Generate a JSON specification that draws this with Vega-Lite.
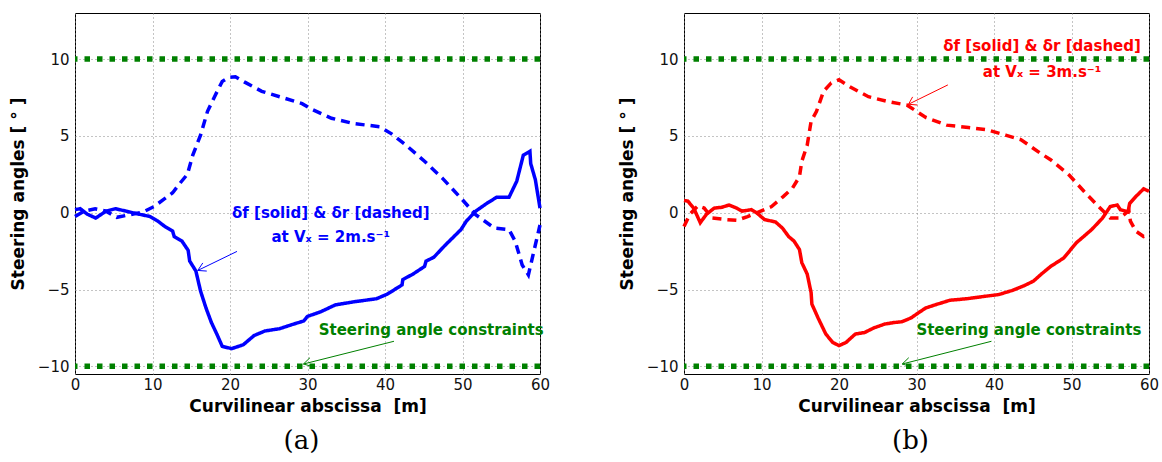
{
  "$schema": "https://vega.github.io/schema/vega-lite/v6.json",
  "padding": {"left": 8, "top": 12, "right": 5, "bottom": 5},
  "background": "white",
  "spacing": 144,
  "bounds": "flush",
  "datasets": {
    "curves": [
      {"p":"a","s":"solid","x":0,"y":0.2},{"p":"a","s":"solid","x":0.67,"y":0.26},{"p":"a","s":"solid","x":1.6,"y":-0.1},{"p":"a","s":"solid","x":2.67,"y":-0.35},{"p":"a","s":"solid","x":4,"y":0.1},{"p":"a","s":"solid","x":5.2,"y":0.26},{"p":"a","s":"solid","x":6.6,"y":0.1},{"p":"a","s":"solid","x":8.3,"y":-0.1},{"p":"a","s":"solid","x":9.7,"y":-0.25},{"p":"a","s":"solid","x":10.7,"y":-0.55},{"p":"a","s":"solid","x":11.6,"y":-0.9},{"p":"a","s":"solid","x":12.6,"y":-1.2},{"p":"a","s":"solid","x":12.8,"y":-1.55},{"p":"a","s":"solid","x":13.8,"y":-1.85},{"p":"a","s":"solid","x":14.6,"y":-2.45},{"p":"a","s":"solid","x":14.8,"y":-3.15},{"p":"a","s":"solid","x":15.6,"y":-3.8},{"p":"a","s":"solid","x":16.2,"y":-5.1},{"p":"a","s":"solid","x":16.9,"y":-6.2},{"p":"a","s":"solid","x":17.6,"y":-7.15},{"p":"a","s":"solid","x":18.3,"y":-7.9},{"p":"a","s":"solid","x":19.0,"y":-8.7},{"p":"a","s":"solid","x":20.2,"y":-8.85},{"p":"a","s":"solid","x":21.7,"y":-8.6},{"p":"a","s":"solid","x":23.1,"y":-8.0},{"p":"a","s":"solid","x":24.5,"y":-7.7},{"p":"a","s":"solid","x":26.4,"y":-7.55},{"p":"a","s":"solid","x":27.9,"y":-7.3},{"p":"a","s":"solid","x":29.5,"y":-7.05},{"p":"a","s":"solid","x":30.0,"y":-6.75},{"p":"a","s":"solid","x":31.7,"y":-6.45},{"p":"a","s":"solid","x":33.6,"y":-6.0},{"p":"a","s":"solid","x":36.0,"y":-5.8},{"p":"a","s":"solid","x":38.9,"y":-5.6},{"p":"a","s":"solid","x":40.3,"y":-5.3},{"p":"a","s":"solid","x":42.2,"y":-4.7},{"p":"a","s":"solid","x":42.3,"y":-4.35},{"p":"a","s":"solid","x":43.6,"y":-4.0},{"p":"a","s":"solid","x":45.1,"y":-3.5},{"p":"a","s":"solid","x":45.3,"y":-3.15},{"p":"a","s":"solid","x":46.3,"y":-2.9},{"p":"a","s":"solid","x":47.7,"y":-2.15},{"p":"a","s":"solid","x":48.6,"y":-1.7},{"p":"a","s":"solid","x":49.8,"y":-1.1},{"p":"a","s":"solid","x":50.5,"y":-0.55},{"p":"a","s":"solid","x":51.7,"y":0.1},{"p":"a","s":"solid","x":53.2,"y":0.63},{"p":"a","s":"solid","x":54.4,"y":1.0},{"p":"a","s":"solid","x":56.0,"y":1.0},{"p":"a","s":"solid","x":57.0,"y":2.05},{"p":"a","s":"solid","x":57.85,"y":3.75},{"p":"a","s":"solid","x":58.7,"y":4.0},{"p":"a","s":"solid","x":58.8,"y":3.2},{"p":"a","s":"solid","x":59.4,"y":2.15},{"p":"a","s":"solid","x":60,"y":0.3},
      {"p":"a","s":"dashed","x":0,"y":-0.25},{"p":"a","s":"dashed","x":1.15,"y":0.1},{"p":"a","s":"dashed","x":2.6,"y":0.25},{"p":"a","s":"dashed","x":4.0,"y":0.1},{"p":"a","s":"dashed","x":5.4,"y":-0.3},{"p":"a","s":"dashed","x":6.9,"y":-0.15},{"p":"a","s":"dashed","x":8.8,"y":0.05},{"p":"a","s":"dashed","x":10.2,"y":0.4},{"p":"a","s":"dashed","x":11.4,"y":0.85},{"p":"a","s":"dashed","x":12.6,"y":1.3},{"p":"a","s":"dashed","x":13.6,"y":1.95},{"p":"a","s":"dashed","x":14.5,"y":2.5},{"p":"a","s":"dashed","x":15.2,"y":3.75},{"p":"a","s":"dashed","x":16.2,"y":5.05},{"p":"a","s":"dashed","x":17.1,"y":6.6},{"p":"a","s":"dashed","x":18.1,"y":7.65},{"p":"a","s":"dashed","x":19.0,"y":8.55},{"p":"a","s":"dashed","x":19.8,"y":8.8},{"p":"a","s":"dashed","x":20.7,"y":8.85},{"p":"a","s":"dashed","x":21.9,"y":8.5},{"p":"a","s":"dashed","x":24.1,"y":7.9},{"p":"a","s":"dashed","x":26.4,"y":7.55},{"p":"a","s":"dashed","x":29.3,"y":7.1},{"p":"a","s":"dashed","x":30.7,"y":6.7},{"p":"a","s":"dashed","x":33.1,"y":6.15},{"p":"a","s":"dashed","x":36.0,"y":5.8},{"p":"a","s":"dashed","x":39.3,"y":5.6},{"p":"a","s":"dashed","x":40.8,"y":5.15},{"p":"a","s":"dashed","x":42.7,"y":4.4},{"p":"a","s":"dashed","x":45.1,"y":3.35},{"p":"a","s":"dashed","x":47.4,"y":2.25},{"p":"a","s":"dashed","x":49.8,"y":0.95},{"p":"a","s":"dashed","x":51.7,"y":-0.13},{"p":"a","s":"dashed","x":54.1,"y":-1.0},{"p":"a","s":"dashed","x":56.0,"y":-1.1},{"p":"a","s":"dashed","x":56.8,"y":-1.85},{"p":"a","s":"dashed","x":57.7,"y":-3.4},{"p":"a","s":"dashed","x":58.5,"y":-4.05},{"p":"a","s":"dashed","x":59.1,"y":-2.75},{"p":"a","s":"dashed","x":60,"y":-0.8},
      {"p":"b","s":"solid","x":0,"y":0.8},{"p":"b","s":"solid","x":0.5,"y":0.75},{"p":"b","s":"solid","x":1.25,"y":0.3},{"p":"b","s":"solid","x":2.1,"y":-0.65},{"p":"b","s":"solid","x":2.9,"y":-0.1},{"p":"b","s":"solid","x":3.9,"y":0.3},{"p":"b","s":"solid","x":4.85,"y":0.35},{"p":"b","s":"solid","x":5.8,"y":0.5},{"p":"b","s":"solid","x":6.8,"y":0.3},{"p":"b","s":"solid","x":7.5,"y":0.1},{"p":"b","s":"solid","x":8.7,"y":0.2},{"p":"b","s":"solid","x":9.4,"y":-0.02},{"p":"b","s":"solid","x":10.4,"y":-0.45},{"p":"b","s":"solid","x":11.8,"y":-0.6},{"p":"b","s":"solid","x":12.7,"y":-1.0},{"p":"b","s":"solid","x":13.5,"y":-1.55},{"p":"b","s":"solid","x":14.2,"y":-1.85},{"p":"b","s":"solid","x":14.9,"y":-2.4},{"p":"b","s":"solid","x":15.2,"y":-3.25},{"p":"b","s":"solid","x":15.9,"y":-4.0},{"p":"b","s":"solid","x":16.4,"y":-5.2},{"p":"b","s":"solid","x":16.5,"y":-5.95},{"p":"b","s":"solid","x":17.3,"y":-6.85},{"p":"b","s":"solid","x":18.3,"y":-7.9},{"p":"b","s":"solid","x":19.2,"y":-8.45},{"p":"b","s":"solid","x":20.0,"y":-8.65},{"p":"b","s":"solid","x":20.9,"y":-8.45},{"p":"b","s":"solid","x":22.1,"y":-7.9},{"p":"b","s":"solid","x":23.3,"y":-7.8},{"p":"b","s":"solid","x":24.5,"y":-7.5},{"p":"b","s":"solid","x":25.9,"y":-7.25},{"p":"b","s":"solid","x":27.1,"y":-7.15},{"p":"b","s":"solid","x":28.1,"y":-7.1},{"p":"b","s":"solid","x":29.3,"y":-6.85},{"p":"b","s":"solid","x":30.3,"y":-6.5},{"p":"b","s":"solid","x":31.2,"y":-6.2},{"p":"b","s":"solid","x":32.4,"y":-6.0},{"p":"b","s":"solid","x":34.3,"y":-5.7},{"p":"b","s":"solid","x":36.5,"y":-5.6},{"p":"b","s":"solid","x":38.7,"y":-5.45},{"p":"b","s":"solid","x":40.6,"y":-5.33},{"p":"b","s":"solid","x":42.3,"y":-5.07},{"p":"b","s":"solid","x":43.9,"y":-4.75},{"p":"b","s":"solid","x":45.1,"y":-4.45},{"p":"b","s":"solid","x":46.1,"y":-4.0},{"p":"b","s":"solid","x":47.3,"y":-3.5},{"p":"b","s":"solid","x":49.0,"y":-2.95},{"p":"b","s":"solid","x":50.6,"y":-1.97},{"p":"b","s":"solid","x":52.6,"y":-1.1},{"p":"b","s":"solid","x":54.0,"y":-0.35},{"p":"b","s":"solid","x":55.0,"y":0.4},{"p":"b","s":"solid","x":55.9,"y":0.5},{"p":"b","s":"solid","x":56.3,"y":0.2},{"p":"b","s":"solid","x":57.3,"y":0.05},{"p":"b","s":"solid","x":57.5,"y":0.6},{"p":"b","s":"solid","x":58.3,"y":1.05},{"p":"b","s":"solid","x":59.3,"y":1.55},{"p":"b","s":"solid","x":60,"y":1.4},
      {"p":"b","s":"dashed","x":0,"y":-0.9},{"p":"b","s":"dashed","x":0.75,"y":-0.1},{"p":"b","s":"dashed","x":1.8,"y":0.45},{"p":"b","s":"dashed","x":2.6,"y":0.3},{"p":"b","s":"dashed","x":3.65,"y":-0.35},{"p":"b","s":"dashed","x":5.55,"y":-0.45},{"p":"b","s":"dashed","x":6.8,"y":-0.5},{"p":"b","s":"dashed","x":8.2,"y":-0.25},{"p":"b","s":"dashed","x":9.9,"y":0.1},{"p":"b","s":"dashed","x":11.3,"y":0.4},{"p":"b","s":"dashed","x":12.8,"y":1.05},{"p":"b","s":"dashed","x":14.0,"y":1.6},{"p":"b","s":"dashed","x":14.9,"y":2.35},{"p":"b","s":"dashed","x":15.2,"y":3.35},{"p":"b","s":"dashed","x":15.9,"y":4.4},{"p":"b","s":"dashed","x":16.4,"y":5.95},{"p":"b","s":"dashed","x":17.1,"y":6.6},{"p":"b","s":"dashed","x":18.0,"y":7.9},{"p":"b","s":"dashed","x":19.0,"y":8.45},{"p":"b","s":"dashed","x":20.0,"y":8.65},{"p":"b","s":"dashed","x":21.4,"y":8.2},{"p":"b","s":"dashed","x":23.8,"y":7.55},{"p":"b","s":"dashed","x":26.2,"y":7.25},{"p":"b","s":"dashed","x":28.8,"y":7.0},{"p":"b","s":"dashed","x":30.0,"y":6.6},{"p":"b","s":"dashed","x":31.2,"y":6.2},{"p":"b","s":"dashed","x":33.9,"y":5.7},{"p":"b","s":"dashed","x":36.7,"y":5.55},{"p":"b","s":"dashed","x":39.1,"y":5.4},{"p":"b","s":"dashed","x":41.5,"y":5.05},{"p":"b","s":"dashed","x":43.5,"y":4.75},{"p":"b","s":"dashed","x":45.9,"y":3.9},{"p":"b","s":"dashed","x":47.3,"y":3.45},{"p":"b","s":"dashed","x":49.7,"y":2.45},{"p":"b","s":"dashed","x":51.6,"y":1.4},{"p":"b","s":"dashed","x":53.5,"y":0.4},{"p":"b","s":"dashed","x":55.0,"y":-0.35},{"p":"b","s":"dashed","x":56.2,"y":-0.35},{"p":"b","s":"dashed","x":57.4,"y":0.13},{"p":"b","s":"dashed","x":57.6,"y":-0.55},{"p":"b","s":"dashed","x":58.3,"y":-1.2},{"p":"b","s":"dashed","x":59.3,"y":-1.55},{"p":"b","s":"dashed","x":60,"y":-1.45}
    ],
    "arrows": [
      {"p":"a","k":"note","id":"s1","o":0,"x":20.9,"y":-2.52},{"p":"a","k":"note","id":"s1","o":1,"x":15.84,"y":-3.76},
      {"p":"a","k":"note","id":"h1","o":0,"x":17.0,"y":-3.8},{"p":"a","k":"note","id":"h1","o":1,"x":15.84,"y":-3.76},{"p":"a","k":"note","id":"h1","o":2,"x":16.49,"y":-3.27},
      {"p":"a","k":"constraint","id":"s2","o":0,"x":41.16,"y":-8.37},{"p":"a","k":"constraint","id":"s2","o":1,"x":29.48,"y":-9.85},
      {"p":"a","k":"constraint","id":"h2","o":0,"x":30.6,"y":-10.01},{"p":"a","k":"constraint","id":"h2","o":1,"x":29.48,"y":-9.85},{"p":"a","k":"constraint","id":"h2","o":2,"x":30.32,"y":-9.44},
      {"p":"b","k":"note","id":"s1","o":0,"x":34.05,"y":8.32},{"p":"b","k":"note","id":"s1","o":1,"x":28.97,"y":7.06},
      {"p":"b","k":"note","id":"h1","o":0,"x":30.13,"y":7.01},{"p":"b","k":"note","id":"h1","o":1,"x":28.97,"y":7.06},{"p":"b","k":"note","id":"h1","o":2,"x":29.5,"y":7.54},
      {"p":"b","k":"constraint","id":"s2","o":0,"x":39.67,"y":-8.37},{"p":"b","k":"constraint","id":"s2","o":1,"x":28.16,"y":-9.85},
      {"p":"b","k":"constraint","id":"h2","o":0,"x":29.28,"y":-10.01},{"p":"b","k":"constraint","id":"h2","o":1,"x":28.16,"y":-9.85},{"p":"b","k":"constraint","id":"h2","o":2,"x":29.0,"y":-9.44}
    ],
    "labels": [
      {"p":"a","k":"note","x":33.0,"y":0.0,"t":"δf [solid] & δr [dashed]"},
      {"p":"a","k":"note","x":33.0,"y":-1.61,"t":"at Vₓ = 2m.s⁻¹"},
      {"p":"a","k":"constraint","x":45.96,"y":-7.61,"t":"Steering angle constraints"},
      {"p":"b","k":"note","x":46.2,"y":10.88,"t":"δf [solid] & δr [dashed]"},
      {"p":"b","k":"note","x":46.2,"y":9.19,"t":"at Vₓ = 3m.s⁻¹"},
      {"p":"b","k":"constraint","x":44.5,"y":-7.61,"t":"Steering angle constraints"}
    ],
    "limits": [{"c":10},{"c":-10}]
  },
  "hconcat": [
    {
      "width": 465, "height": 361,
      "title": {"text": "(a)", "orient": "bottom", "font": "DejaVu Serif", "fontSize": 26, "fontWeight": "normal", "color": "#000", "offset": 14, "dx": -6},
      "layer": [
        {"data": {"name": "limits"}, "mark": {"type": "rule", "color": "#008000", "strokeWidth": 5.5, "strokeDash": [5.5, 7]},
         "encoding": {"y": {"field": "c", "type": "quantitative", "title": "Steering angles [ ° ]", "axis": {"values": [-10, -5, 0, 5, 10]}, "scale": {"domain": [-10.5, 13], "nice": false, "zero": false}}}},
        {"data": {"name": "curves"}, "transform": [{"filter": "datum.p == 'a'"}], "mark": {"type": "line", "color": "#0000ff", "strokeWidth": 3.5},
         "encoding": {
           "x": {"field": "x", "type": "quantitative", "title": "Curvilinear abscissa\u00a0 [m]", "axis": {"values": [0, 10, 20, 30, 40, 50, 60]}, "scale": {"domain": [0, 60], "nice": false, "zero": false}},
           "y": {"field": "y", "type": "quantitative", "title": "Steering angles [ ° ]", "axis": {"values": [-10, -5, 0, 5, 10]}, "scale": {"domain": [-10.5, 13], "nice": false, "zero": false}},
           "detail": {"field": "s"},
           "strokeDash": {"field": "s", "type": "nominal", "scale": {"domain": ["solid", "dashed"], "range": [[1, 0], [9, 6]]}, "legend": null}
         }},
        {"data": {"name": "arrows"}, "transform": [{"filter": "datum.p == 'a'"}], "mark": {"type": "line", "strokeWidth": 1},
         "encoding": {
           "x": {"field": "x", "type": "quantitative", "title": "Curvilinear abscissa\u00a0 [m]", "axis": {"values": [0, 10, 20, 30, 40, 50, 60]}},
           "y": {"field": "y", "type": "quantitative", "title": "Steering angles [ ° ]", "axis": {"values": [-10, -5, 0, 5, 10]}},
           "detail": {"field": "id"},
           "order": {"field": "o"},
           "color": {"field": "k", "type": "nominal", "scale": {"domain": ["note", "constraint"], "range": ["#0000ff", "#008000"]}, "legend": null}
         }},
        {"data": {"name": "labels"}, "transform": [{"filter": "datum.p == 'a'"}], "mark": {"type": "text", "font": "DejaVu Sans", "fontWeight": "bold", "fontSize": 15, "align": "center", "baseline": "middle"},
         "encoding": {
           "x": {"field": "x", "type": "quantitative", "title": "Curvilinear abscissa\u00a0 [m]", "axis": {"values": [0, 10, 20, 30, 40, 50, 60]}},
           "y": {"field": "y", "type": "quantitative", "title": "Steering angles [ ° ]", "axis": {"values": [-10, -5, 0, 5, 10]}},
           "text": {"field": "t"},
           "color": {"field": "k", "type": "nominal", "scale": {"domain": ["note", "constraint"], "range": ["#0000ff", "#008000"]}, "legend": null}
         }}
      ]
    },
    {
      "width": 465, "height": 361,
      "title": {"text": "(b)", "orient": "bottom", "font": "DejaVu Serif", "fontSize": 26, "fontWeight": "normal", "color": "#000", "offset": 14, "dx": -6},
      "layer": [
        {"data": {"name": "limits"}, "mark": {"type": "rule", "color": "#008000", "strokeWidth": 5.5, "strokeDash": [5.5, 7]},
         "encoding": {"y": {"field": "c", "type": "quantitative", "title": "Steering angles [ ° ]", "axis": {"values": [-10, -5, 0, 5, 10]}, "scale": {"domain": [-10.5, 13], "nice": false, "zero": false}}}},
        {"data": {"name": "curves"}, "transform": [{"filter": "datum.p == 'b'"}], "mark": {"type": "line", "color": "#ff0000", "strokeWidth": 3.5},
         "encoding": {
           "x": {"field": "x", "type": "quantitative", "title": "Curvilinear abscissa\u00a0 [m]", "axis": {"values": [0, 10, 20, 30, 40, 50, 60]}, "scale": {"domain": [0, 60], "nice": false, "zero": false}},
           "y": {"field": "y", "type": "quantitative", "title": "Steering angles [ ° ]", "axis": {"values": [-10, -5, 0, 5, 10]}, "scale": {"domain": [-10.5, 13], "nice": false, "zero": false}},
           "detail": {"field": "s"},
           "strokeDash": {"field": "s", "type": "nominal", "scale": {"domain": ["solid", "dashed"], "range": [[1, 0], [9, 6]]}, "legend": null}
         }},
        {"data": {"name": "arrows"}, "transform": [{"filter": "datum.p == 'b'"}], "mark": {"type": "line", "strokeWidth": 1},
         "encoding": {
           "x": {"field": "x", "type": "quantitative", "title": "Curvilinear abscissa\u00a0 [m]", "axis": {"values": [0, 10, 20, 30, 40, 50, 60]}},
           "y": {"field": "y", "type": "quantitative", "title": "Steering angles [ ° ]", "axis": {"values": [-10, -5, 0, 5, 10]}},
           "detail": {"field": "id"},
           "order": {"field": "o"},
           "color": {"field": "k", "type": "nominal", "scale": {"domain": ["note", "constraint"], "range": ["#ff0000", "#008000"]}, "legend": null}
         }},
        {"data": {"name": "labels"}, "transform": [{"filter": "datum.p == 'b'"}], "mark": {"type": "text", "font": "DejaVu Sans", "fontWeight": "bold", "fontSize": 15, "align": "center", "baseline": "middle"},
         "encoding": {
           "x": {"field": "x", "type": "quantitative", "title": "Curvilinear abscissa\u00a0 [m]", "axis": {"values": [0, 10, 20, 30, 40, 50, 60]}},
           "y": {"field": "y", "type": "quantitative", "title": "Steering angles [ ° ]", "axis": {"values": [-10, -5, 0, 5, 10]}},
           "text": {"field": "t"},
           "color": {"field": "k", "type": "nominal", "scale": {"domain": ["note", "constraint"], "range": ["#ff0000", "#008000"]}, "legend": null}
         }}
      ]
    }
  ],
  "resolve": {"scale": {"color": "independent", "strokeDash": "independent"}},
  "config": {
    "view": {"stroke": "#000", "strokeWidth": 1},
    "axis": {
      "domain": false, "ticks": false,
      "grid": true, "gridColor": "#888", "gridDash": [1, 3], "gridWidth": 1, "gridOpacity": 1,
      "labelFont": "DejaVu Sans", "labelFontSize": 15, "labelColor": "#111",
      "titleFont": "DejaVu Sans", "titleFontSize": 17, "titleFontWeight": "bold", "titleColor": "#000"
    },
    "axisX": {"labelPadding": 3, "titlePadding": 6, "labelFlush": false},
    "axisY": {"labelPadding": 6, "titlePadding": 10}
  }
}
